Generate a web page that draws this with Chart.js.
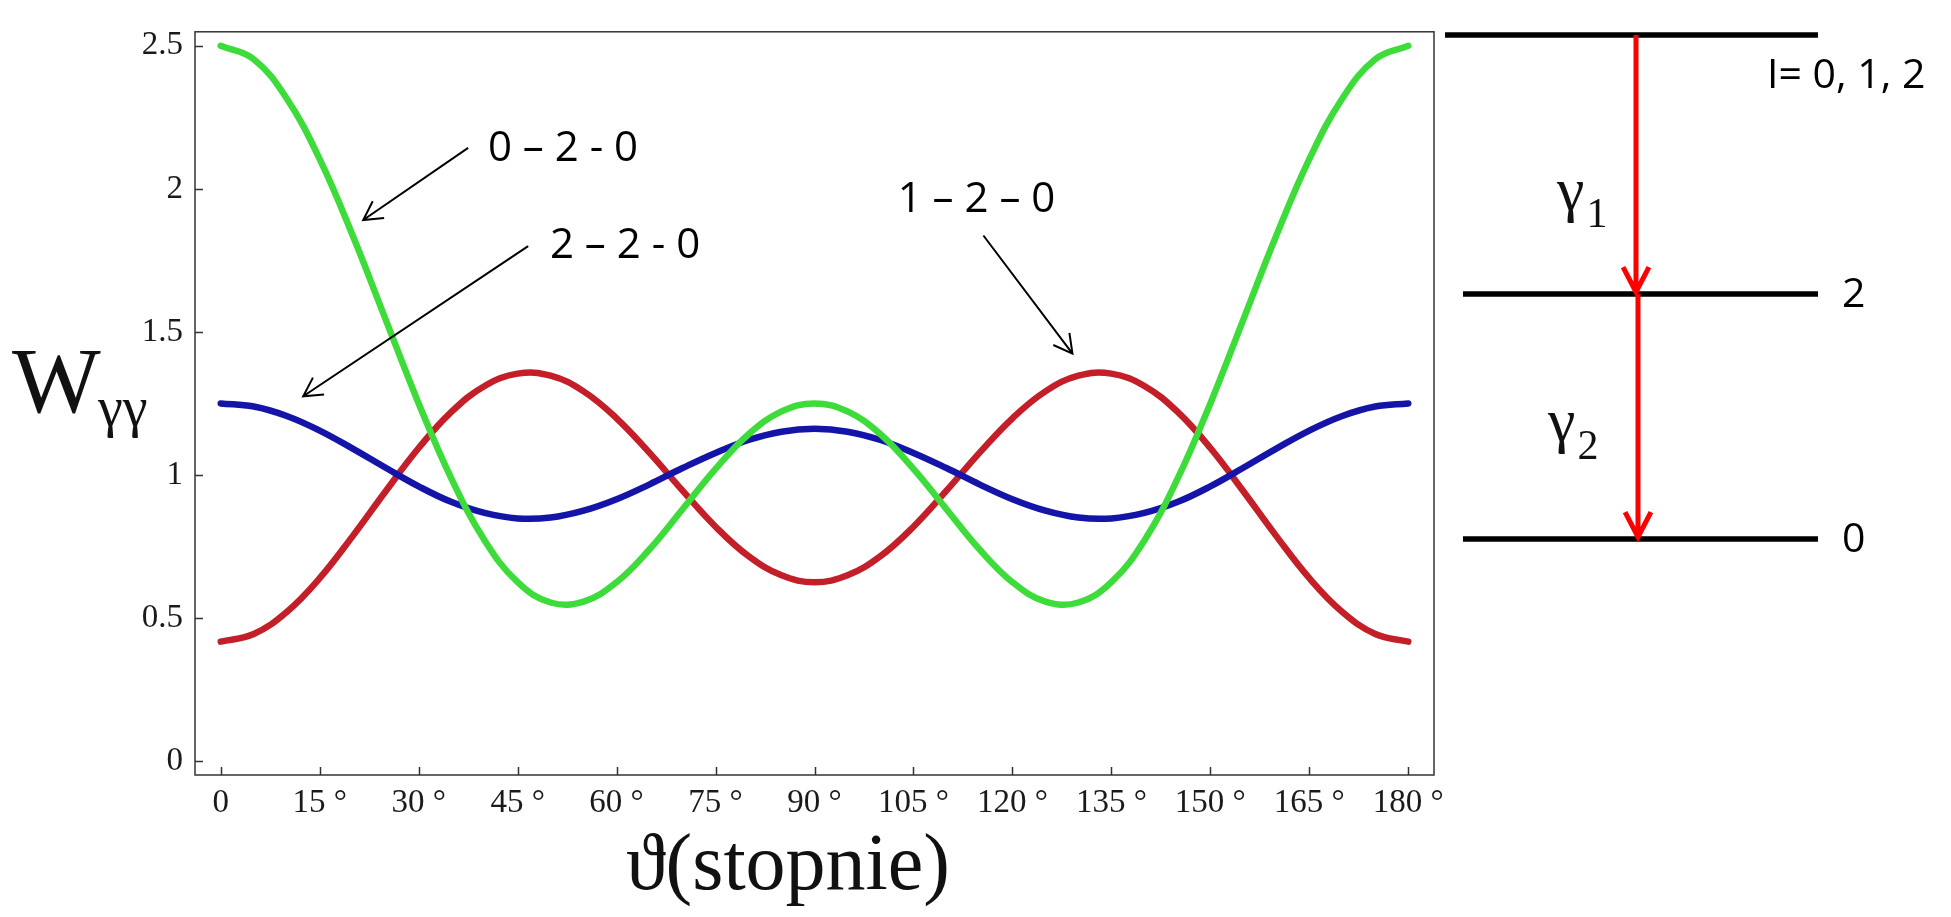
<!DOCTYPE html>
<html>
<head>
<meta charset="utf-8">
<title>W(theta) – kaskady gamma</title>
<script src="https://cdn.jsdelivr.net/npm/chart.js@4.4.1/dist/chart.umd.min.js"></script>
<style>
  html, body { margin: 0; padding: 0; background: #fff; }
  #wrap { width: 1951px; height: 917px; }
</style>
</head>
<body>
<div id="wrap"><canvas id="corr" width="1951" height="917"></canvas></div>
<script>
// angle between the two gammas, degrees
const angles = [0, 5, 10, 15, 20, 25, 30, 35, 40, 45, 50, 55, 60, 65, 70, 75, 80, 85, 90,
  95, 100, 105, 110, 115, 120, 125, 130, 135, 140, 145, 150, 155, 160, 165, 170, 175, 180];

// cascade 0-2-0 (green)
const w020 = [2.500, 2.453, 2.316, 2.104, 1.837, 1.543, 1.250, 0.985, 0.771, 0.625, 0.554, 0.557, 0.625,
  0.740, 0.880, 1.021, 1.142, 1.222, 1.250,
  1.222, 1.142, 1.021, 0.880, 0.740, 0.625, 0.557, 0.554, 0.625, 0.771, 0.985, 1.250, 1.543, 1.837,
  2.104, 2.316, 2.453, 2.500];

// cascade 1-2-0 (red)
const w120 = [0.417, 0.444, 0.521, 0.639, 0.786, 0.943, 1.094, 1.221, 1.311, 1.354, 1.347, 1.292, 1.198,
  1.077, 0.945, 0.819, 0.716, 0.649, 0.625,
  0.649, 0.716, 0.819, 0.945, 1.077, 1.198, 1.292, 1.347, 1.354, 1.311, 1.221, 1.094, 0.943, 0.786,
  0.639, 0.521, 0.444, 0.417];

// cascade 2-2-0 (blue)
const w220 = [1.250, 1.239, 1.206, 1.155, 1.092, 1.025, 0.960, 0.905, 0.867, 0.848, 0.851, 0.875, 0.915,
  0.967, 1.024, 1.077, 1.122, 1.151, 1.161,
  1.151, 1.122, 1.077, 1.024, 0.967, 0.915, 0.875, 0.851, 0.848, 0.867, 0.905, 0.960, 1.025, 1.092,
  1.155, 1.206, 1.239, 1.250];

const xTicks = [0, 15, 30, 45, 60, 75, 90, 105, 120, 135, 150, 165, 180];
const yTicks = [0, 0.5, 1, 1.5, 2, 2.5];

// pointer labels: text anchor, arrow start, arrow tip (theta, W)
const pointerLabels = ['0 \u2013 2 - 0', '2 \u2013 2 - 0', '1 \u2013 2 \u2013 0'];
const pointerText = [[40.5, 2.139], [49.9, 1.800], [102.6, 1.962]];
const pointerFrom = [[37.5, 2.143], [46.6, 1.800], [115.6, 1.837]];
const pointerTo = [[21.6, 1.891], [12.5, 1.275], [129.1, 1.424]];

// level scheme on the right
const levelSpins = ['I= 0, 1, 2', '2', '0'];
const gammaIndex = ['1', '2'];

const SERIF = '"Liberation Serif", "DejaVu Serif", serif';
const SANS = '"Open Sans", "Liberation Sans", sans-serif';

const pts = (ys) => angles.map((a, i) => ({ x: a, y: ys[i] }));

function arrow(ctx, x0, y0, x1, y1, len, ang) {
  const a = Math.atan2(y1 - y0, x1 - x0);
  ctx.beginPath();
  ctx.moveTo(x0, y0);
  ctx.lineTo(x1, y1);
  ctx.moveTo(x1 - len * Math.cos(a - ang), y1 - len * Math.sin(a - ang));
  ctx.lineTo(x1, y1);
  ctx.lineTo(x1 - len * Math.cos(a + ang), y1 - len * Math.sin(a + ang));
  ctx.stroke();
}

const decor = {
  id: 'decor',
  beforeDraw(chart) {
    const ctx = chart.ctx;
    ctx.save();
    ctx.fillStyle = '#fff';
    ctx.fillRect(0, 0, chart.width, chart.height);
    ctx.restore();
  },
  afterDraw(chart) {
    const ctx = chart.ctx;
    const { left, right, top, bottom } = chart.chartArea;
    const xs = chart.scales.x, ys = chart.scales.y;
    ctx.save();

    // frame + inward ticks
    ctx.strokeStyle = '#333';
    ctx.lineWidth = 1.5;
    ctx.strokeRect(left, top, right - left, bottom - top);
    ctx.beginPath();
    xTicks.forEach(v => {
      const px = Math.round(xs.getPixelForValue(v)) + 0.5;
      ctx.moveTo(px, bottom);
      ctx.lineTo(px, bottom - 8);
    });
    yTicks.forEach(v => {
      const py = Math.round(ys.getPixelForValue(v)) + 0.5;
      ctx.moveTo(left, py);
      ctx.lineTo(left + 8, py);
    });
    ctx.stroke();

    // axis titles
    ctx.fillStyle = '#111';
    ctx.textBaseline = 'alphabetic';
    ctx.textAlign = 'left';
    ctx.font = '94px ' + SERIF;
    ctx.fillText('W', 12, 412);
    ctx.font = '56px ' + SERIF;
    ctx.fillText('\u03b3\u03b3', 98, 426);

    ctx.textAlign = 'center';
    ctx.font = '80px ' + SERIF;
    ctx.fillText('\u03d1(stopnie)', 788, 889);

    // pointer labels with arrows
    ctx.fillStyle = '#000';
    ctx.strokeStyle = '#000';
    ctx.lineWidth = 2;
    ctx.textAlign = 'left';
    ctx.textBaseline = 'middle';
    ctx.font = '42px ' + SANS;
    pointerLabels.forEach((t, i) => {
      ctx.fillText(t, xs.getPixelForValue(pointerText[i][0]), ys.getPixelForValue(pointerText[i][1]));
      arrow(ctx,
        xs.getPixelForValue(pointerFrom[i][0]), ys.getPixelForValue(pointerFrom[i][1]),
        xs.getPixelForValue(pointerTo[i][0]), ys.getPixelForValue(pointerTo[i][1]),
        21, 0.5);
    });

    // level scheme
    const lx0 = right + 11, lx1 = right + 384, ax = right + 202;
    const levelY = [35, 294, 539];
    ctx.lineWidth = 5.5;
    ctx.strokeStyle = '#000';
    levelY.forEach((y, i) => {
      ctx.beginPath();
      ctx.moveTo(i === 0 ? lx0 : lx0 + 18, y);
      ctx.lineTo(lx1, y);
      ctx.stroke();
    });
    ctx.font = '41px ' + SANS;
    ctx.textBaseline = 'alphabetic';
    ctx.fillText(levelSpins[0], right + 333, 88);
    ctx.textBaseline = 'middle';
    ctx.fillText(levelSpins[1], right + 408, levelY[1] + 1);
    ctx.fillText(levelSpins[2], right + 408, levelY[2] + 1);

    ctx.strokeStyle = '#ff0000';
    ctx.lineWidth = 5;
    arrow(ctx, ax, levelY[0], ax, levelY[1] - 2, 28, 0.48);
    arrow(ctx, ax + 2, levelY[1], ax + 2, levelY[2] - 2, 28, 0.48);

    ctx.fillStyle = '#111';
    ctx.textBaseline = 'alphabetic';
    const gammaPos = [[right + 123, 210, 227], [right + 114, 441, 459]];
    gammaIndex.forEach((g, i) => {
      const [gx, gy, sy] = gammaPos[i];
      ctx.font = '62px ' + SERIF;
      ctx.fillText('\u03b3', gx, gy);
      const w = ctx.measureText('\u03b3').width;
      ctx.font = '42px ' + SERIF;
      ctx.fillText(g, gx + w + 2, sy);
    });

    ctx.restore();
  }
};

new Chart(document.getElementById('corr'), {
  type: 'line',
  data: {
    datasets: [
      { label: '0-2-0', data: pts(w020), borderColor: '#3ddc3a', borderWidth: 6.5 },
      { label: '2-2-0', data: pts(w220), borderColor: '#1414a8', borderWidth: 6.5 },
      { label: '1-2-0', data: pts(w120), borderColor: '#c41f28', borderWidth: 6.5 }
    ]
  },
  options: {
    responsive: false, animation: false,
    elements: { point: { radius: 0 }, line: { tension: 0.4, fill: false, borderCapStyle: 'round' } },
    layout: { padding: { left: 0, top: 12, right: 517, bottom: 0 } },
    scales: {
      x: {
        type: 'linear', min: -3.9, max: 183.9,
        grid: { display: false, drawTicks: false },
        border: { display: false },
        afterBuildTicks: (s) => { s.ticks = xTicks.map(v => ({ value: v })); },
        afterFit: (s) => { s.height = 142; },
        ticks: {
          padding: 9, maxRotation: 0, autoSkip: false, color: '#1a1a1a',
          font: { family: SERIF, size: 33 },
          callback: (v) => v === 0 ? '0' : v + ' \u00b0'
        }
      },
      y: {
        type: 'linear', min: -0.049, max: 2.549,
        grid: { display: false, drawTicks: false },
        border: { display: false },
        afterBuildTicks: (s) => { s.ticks = yTicks.map(v => ({ value: v })); },
        afterFit: (s) => { s.width = 195; },
        ticks: {
          padding: 12, color: '#1a1a1a',
          font: { family: SERIF, size: 33 },
          callback: (v) => String(v)
        }
      }
    },
    plugins: { legend: { display: false }, tooltip: { enabled: false } }
  },
  plugins: [decor]
});
</script>
</body>
</html>
